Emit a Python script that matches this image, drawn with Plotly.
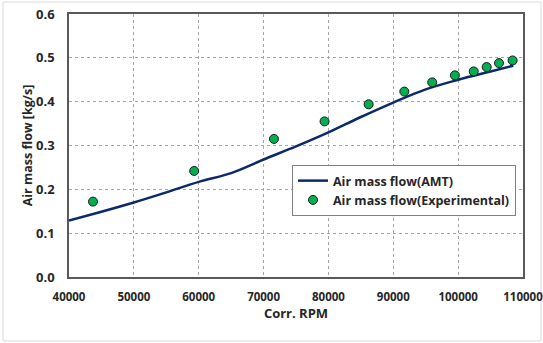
import plotly.graph_objects as go

# Model curve (AMT)
amt_rpm = [40000, 45000, 50000, 55000, 60000, 65000, 70000, 75000, 80000, 85000, 90000, 95000, 100000, 105000, 108500]
amt_flow = [0.129, 0.149, 0.170, 0.193, 0.217, 0.237, 0.268, 0.298, 0.330, 0.365, 0.398, 0.428, 0.450, 0.469, 0.482]

# Experimental points
exp_rpm = [43700, 59300, 71600, 79400, 86200, 91700, 96000, 99500, 102400, 104400, 106300, 108400]
exp_flow = [0.172, 0.242, 0.315, 0.355, 0.394, 0.423, 0.444, 0.460, 0.469, 0.479, 0.488, 0.494]

x_ticks = [40000, 50000, 60000, 70000, 80000, 90000, 100000, 110000]
y_ticks = [0.0, 0.1, 0.2, 0.3, 0.4, 0.5, 0.6]

font_family = "'Open Sans', Lato, sans-serif"

fig = go.Figure()
fig.add_trace(go.Scatter(
    x=amt_rpm, y=amt_flow, mode="lines", name="<b>Air mass flow(AMT)</b>",
    line=dict(color="#0c2a6b", width=2.5, shape="spline"),
))
fig.add_trace(go.Scatter(
    x=exp_rpm, y=exp_flow, mode="markers", name="<b>Air mass flow(Experimental)</b>",
    marker=dict(color="#00b050", size=9, line=dict(color="#1a1a1a", width=1)),
))

W, H = 543, 343
L, R, T, B = 69, 20, 14, 66
pw, ph = W - L - R, H - T - B

fig.update_layout(
    width=W, height=H,
    margin=dict(l=L, r=R, t=T, b=B),
    paper_bgcolor="white", plot_bgcolor="white",
    font=dict(family=font_family, color="#262626", size=13),
    showlegend=True,
    legend=dict(
        x=(516 - L) / pw, y=(H - B - 165) / ph, xanchor="right", yanchor="top",
        bgcolor="white", bordercolor="#7f7f7f", borderwidth=1,
        font=dict(size=12.5, family=font_family, color="#262626"),
        itemwidth=30, tracegroupgap=2,
    ),
    xaxis=dict(
        range=[40000, 110000], tickvals=x_ticks, ticktext=[f"<b>{v}</b>" for v in x_ticks],
        showgrid=True, gridcolor="#a6a6a6", griddash="dot", gridwidth=1,
        showline=True, linecolor="#595959", linewidth=1.5, mirror=True,
        ticks="", zeroline=False, ticklabelstandoff=8, ticklabeloverflow="allow",
        automargin=False,
        tickfont=dict(size=11.5, family=font_family),
        title=dict(text="<b>Corr. RPM</b>", font=dict(size=13, family=font_family), standoff=6),
    ),
    yaxis=dict(
        range=[0, 0.6], tickvals=y_ticks, ticktext=[f"<b>{v:.1f}</b>" for v in y_ticks],
        showgrid=True, gridcolor="#a6a6a6", griddash="dot", gridwidth=1,
        showline=True, linecolor="#595959", linewidth=1.5, mirror=True,
        ticks="", zeroline=False, ticklabelstandoff=10, automargin=False,
        tickfont=dict(size=13, family=font_family),
        title=dict(text="<b>Air mass flow [kg/s]</b>", font=dict(size=12.5, family=font_family), standoff=0),
    ),
    shapes=[dict(
        type="rect", xref="paper", yref="paper", layer="below",
        x0=(3 - L) / pw, x1=(541 - L) / pw,
        y0=(H - B - 341) / ph, y1=(H - B - 2) / ph,
        line=dict(color="#d9d9d9", width=1), fillcolor="rgba(0,0,0,0)",
    )],
)

fig.write_html("out.html")
